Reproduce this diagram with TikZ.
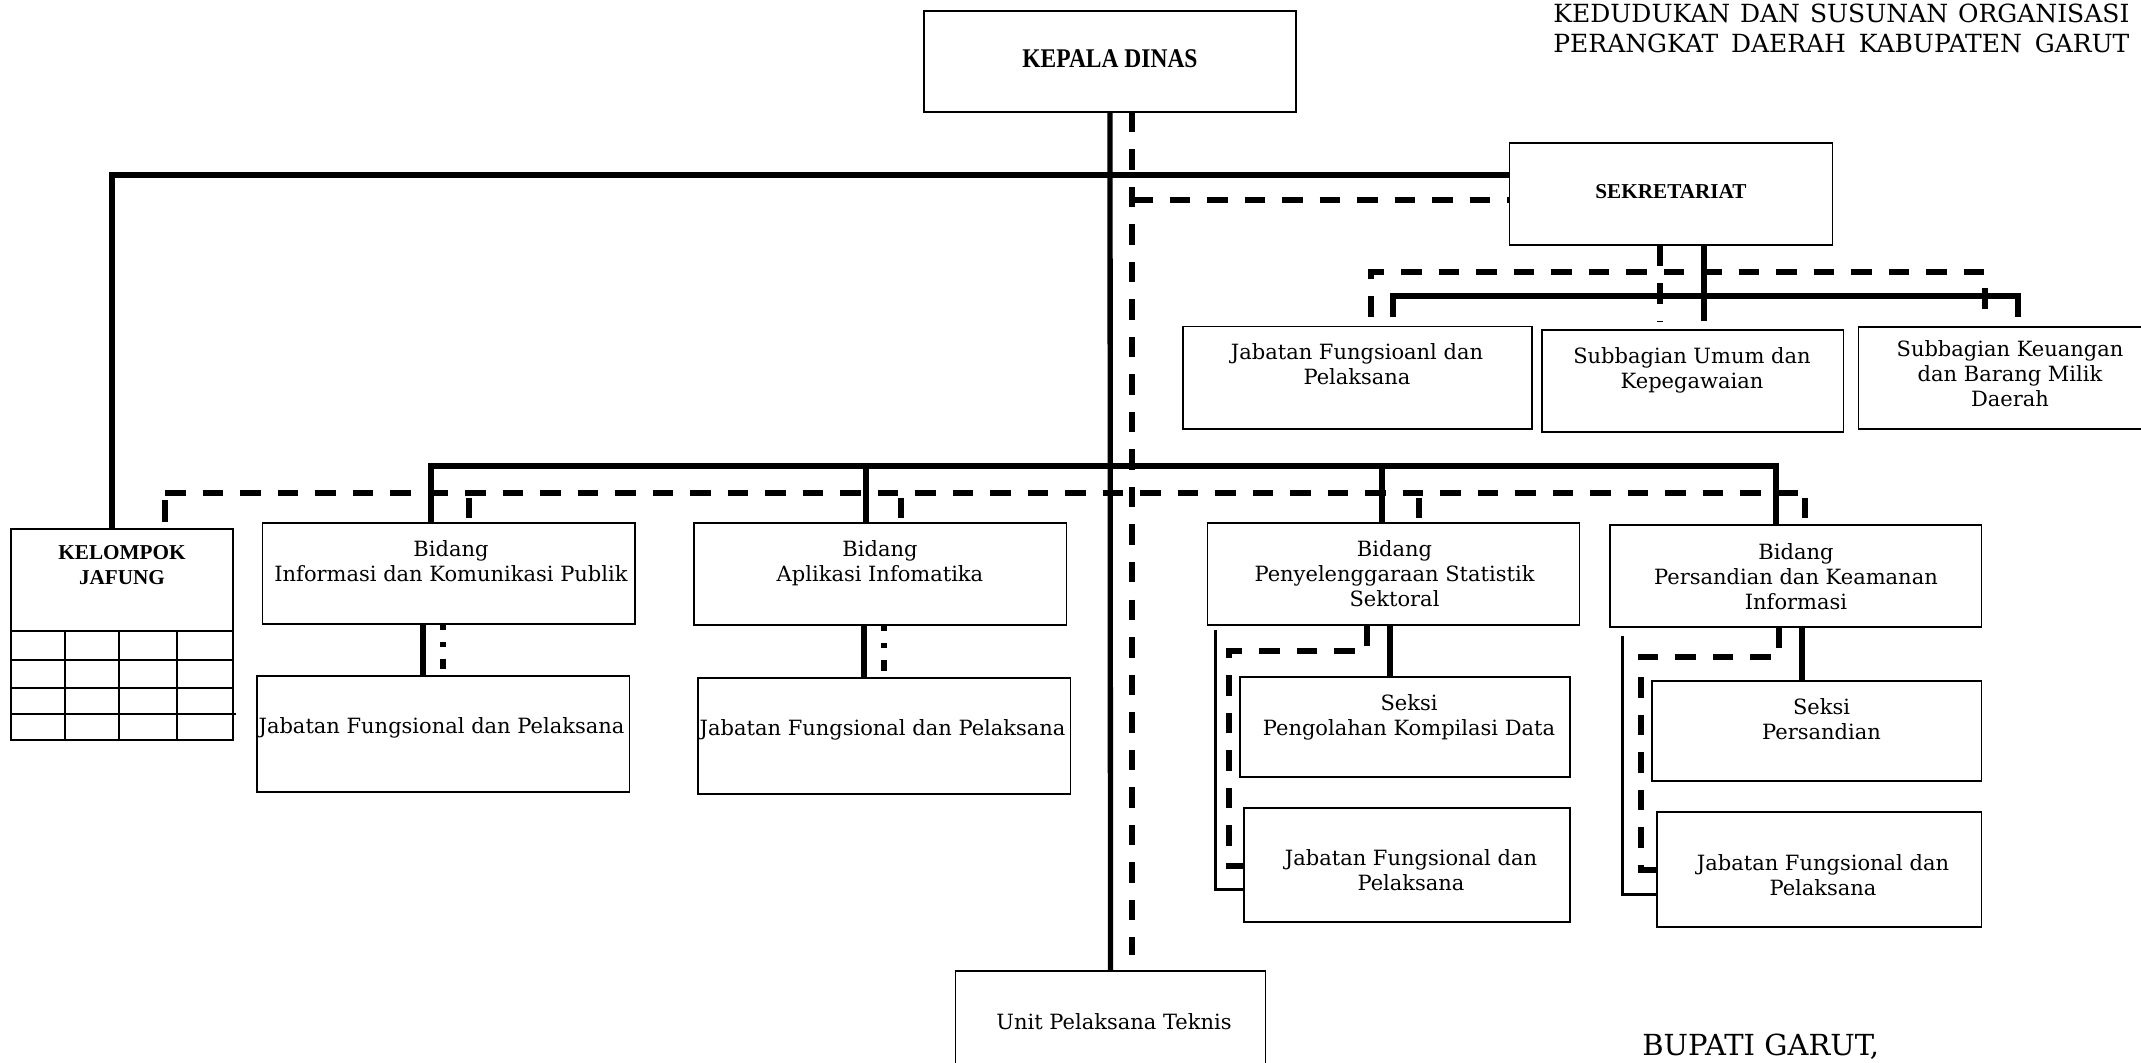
\documentclass[tikz,border=0pt]{standalone}
\usepackage{graphicx}
\usepackage{fontspec}
\setmainfont{DejaVu Serif}
\newfontfamily\hdfont{Liberation Serif}
\usetikzlibrary{fit,calc}

\begin{document}
\begin{tikzpicture}[x=0.5pt,y=-0.5pt,
  box/.style={draw, line width=0.8pt, inner sep=0pt},
  txt/.style={font=\fontsize{10.5}{12.65}\selectfont, align=center, inner sep=0pt, anchor=north},
  hd/.style={font=\hdfont\bfseries\fontsize{10.6}{12.5}\selectfont, align=center, inner sep=0pt},
  link/.style={line width=2.65pt},
  thinlink/.style={line width=1.5pt},
  dlink/.style={line width=2.7pt, dash pattern=on 10.25pt off 8.5pt},
  dstub/.style={line width=2.7pt},
  grid/.style={line width=0.8pt},
]
\clip (0,0) rectangle (2141,1063);
\fill[white] (0,0) rectangle (2141,1063);

% ---------- boxes ----------
\node[box, fit={(924,11) (1296,112)}] (kd) {};
\node[box, fit={(1509.5,143) (1832.5,245)}] (sek) {};
\node[box, fit={(1183,326.7) (1531.7,429)}] (jfs) {};
\node[box, fit={(1541.7,330) (1843.6,432)}] (sbu) {};
\node[box, fit={(1858.5,327) (2162,429)}] (sbk) {};
\node[box, fit={(11,529) (233,740)}] (kj) {};
\node[box, fit={(262.5,523) (635,624)}] (bidInfo) {};
\node[box, fit={(256.7,675.7) (629.5,791.7)}] (jfInfo) {};
\node[box, fit={(693.75,523) (1066.5,625)}] (bidApl) {};
\node[box, fit={(698,678) (1070.5,794)}] (jfApl) {};
\node[box, fit={(1207.6,523) (1579.5,625)}] (bidPen) {};
\node[box, fit={(1240,676.7) (1569.7,776.7)}] (sekPen) {};
\node[box, fit={(1244,807.7) (1569.7,921.7)}] (jfPen) {};
\node[box, fit={(1610,525) (1981.5,627)}] (bidPer) {};
\node[box, fit={(1651.8,680.7) (1981.5,780.7)}] (sekPer) {};
\node[box, fit={(1656.7,811.7) (1981.5,926.7)}] (jfPer) {};
\node[box, fit={(955.4,970.7) (1265.6,1090)}] (upt) {};

% table rows of the Kelompok Jafung box
\draw[grid] (11,631) -- (233,631);
\draw[grid] (11,660) -- (233,660);
\draw[grid] (11,688) -- (233,688);
\draw[grid] (11,714) -- (236,714);
\foreach \cx in {65,119,177} \draw[grid] (\cx,631) -- (\cx,740);

% ---------- texts ----------
\node[hd] (kd-t) at (1110,59) {\fontsize{13.5}{15}\selectfont\scalebox{0.87}[1]{KEPALA DINAS}};
\node[hd] (sek-t) at (1671,192) {SEKRETARIAT};
\node[hd, anchor=north] (kj-t) at (122,545) {KELOMPOK\\JAFUNG};

\node[txt] (jfs-t) at (1357,343) {Jabatan Fungsioanl dan\\Pelaksana};
\node[txt] (sbu-t) at (1692,347) {Subbagian Umum dan\\Kepegawaian};
\node[txt] (sbk-t) at (2010,340) {Subbagian Keuangan\\dan Barang Milik\\Daerah};

\node[txt] (bidInfo-t) at (451,540) {Bidang\\Informasi dan Komunikasi Publik};
\node[txt] (bidApl-t) at (880,540) {Bidang\\Aplikasi Infomatika};
\node[txt] (bidPen-t) at (1394.5,540) {Bidang\\Penyelenggaraan Statistik\\Sektoral};
\node[txt] (bidPer-t) at (1796,542.7) {Bidang\\Persandian dan Keamanan\\Informasi};

\node[txt] (jfInfo-t) at (441.5,716.7) {Jabatan Fungsional dan Pelaksana};
\node[txt] (jfApl-t) at (882.6,719) {Jabatan Fungsional dan Pelaksana};
\node[txt] (sekPen-t) at (1409,694) {Seksi\\Pengolahan Kompilasi Data};
\node[txt] (jfPen-t) at (1411,849.3) {Jabatan Fungsional dan\\Pelaksana};
\node[txt] (sekPer-t) at (1821.5,697.7) {Seksi\\Persandian};
\node[txt] (jfPer-t) at (1823,854.3) {Jabatan Fungsional dan\\Pelaksana};
\node[txt] (upt-t) at (1114,1013.3) {Unit Pelaksana Teknis};

\node[anchor=north west, inner sep=0pt, align=left, font=\fontsize{12.5}{15}\selectfont] (title) at (1553,3.3)
  {\makebox[288pt][s]{KEDUDUKAN DAN SUSUNAN ORGANISASI}\\\makebox[288pt][s]{PERANGKAT DAERAH KABUPATEN GARUT}};
\node[anchor=base west, inner sep=0pt, font=\fontsize{14.5}{17}\selectfont] (bupati) at (1642,1055) {BUPATI GARUT,};

% ---------- connectors: head office ----------
\coordinate (busL) at (112,175);
\coordinate (dtop) at (1132,112);
\coordinate (dend) at (1132,955);
\coordinate (dsek) at (1132,200);
\draw[link] (kd.south) -- (upt.north);
\draw[dlink] (dtop) -- (dend);
\draw[link] (sek.west |- busL) -- (busL) -- (busL |- kj.north);
\draw[dlink] (dsek) -- (sek.west |- dsek);

% ---------- connectors: secretariat ----------
\coordinate (sv) at (1704,296);
\coordinate (ss) at (1393,296);
\coordinate (se) at (2018,296);
\coordinate (dv) at (1660,272);
\coordinate (dl) at (1371,272);
\coordinate (dr) at (1985,272);
\draw[link, shorten >=4pt] (sek.south -| sv) -- (sv |- sbu.north);
\draw[link, shorten <=4.5pt, shorten >=4.5pt] (ss |- jfs.north) -- (ss) -- (se) -- (se |- sbk.north);
\draw[dlink, shorten >=3.5pt] (sek.south -| dv) -- (dv |- sbu.north);
\draw[dlink, shorten <=4.5pt, shorten >=3pt] (dl |- jfs.north) -- (dl) -- (dr) -- (dr |- sbk.north);

% ---------- connectors: divisions ----------
\coordinate (s1) at (431,466);
\coordinate (s2) at (866,466);
\coordinate (s3) at (1382,466);
\coordinate (s4) at (1776,466);
\draw[link] (s1 |- bidInfo.north) -- (s1) -- (s4) -- (s4 |- bidPer.north);
\draw[link] (s2) -- (s2 |- bidApl.north);
\draw[link] (s3) -- (s3 |- bidPen.north);

\coordinate (d0) at (165,493);
\coordinate (d1) at (469,493);
\coordinate (d2) at (901,493);
\coordinate (d3) at (1419,493);
\coordinate (d4) at (1805,493);
\draw[dlink] (d0) -- (d4);
\draw[dstub, shorten >=3pt] ($(d0)+(0,7)$) -- (d0 |- kj.north);
\draw[dstub, shorten >=2pt] ($(d1)+(0,5)$) -- (d1 |- bidInfo.north);
\draw[dstub, shorten >=2pt] ($(d2)+(0,5)$) -- (d2 |- bidApl.north);
\draw[dstub, shorten >=2pt] ($(d3)+(0,5)$) -- (d3 |- bidPen.north);
\draw[dstub, shorten >=3pt] ($(d4)+(0,5)$) -- (d4 |- bidPer.north);

% Bidang Informasi dan Komunikasi Publik
\coordinate (ci) at (423,650);
\coordinate (cid) at (443,650);
\draw[link] (ci |- bidInfo.south) -- (ci |- jfInfo.north);
\draw[dlink, dash pattern=on 2.5pt off 6pt on 2.5pt off 6pt on 12pt off 4pt, shorten >=3pt] (cid |- bidInfo.south) -- (cid |- jfInfo.north);

% Bidang Aplikasi Infomatika
\coordinate (ca) at (864,650);
\coordinate (cad) at (884,650);
\draw[link] (ca |- bidApl.south) -- (ca |- jfApl.north);
\draw[dlink, dash pattern=on 2.5pt off 6pt on 2.5pt off 6pt on 12pt off 4pt, shorten >=3pt] (cad |- bidApl.south) -- (cad |- jfApl.north);

% Bidang Penyelenggaraan Statistik Sektoral
\coordinate (cp) at (1390,650);
\coordinate (cpd1) at (1367,651);
\coordinate (cpd2) at (1229,651);
\coordinate (cpd3) at (1229,866);
\coordinate (cpl) at (1215.5,889);
\draw[link] (cp |- bidPen.south) -- (cp |- sekPen.north);
\draw[dlink] (cpd1 |- bidPen.south) -- (cpd1) -- (cpd2) -- (cpd3) -- (cpd3 -| jfPen.west);
\draw[thinlink, shorten <=2pt] (cpl |- bidPen.south) -- (cpl) -- (cpl -| jfPen.west);

% Bidang Persandian dan Keamanan Informasi
\coordinate (cs) at (1802,650);
\coordinate (csd1) at (1779,657);
\coordinate (csd2) at (1641,657);
\coordinate (csd3) at (1641,870);
\coordinate (csl) at (1622,894);
\draw[link] (cs |- bidPer.south) -- (cs |- sekPer.north);
\draw[dlink] (csd1 |- bidPer.south) -- (csd1) -- (csd2) -- (csd3) -- (csd3 -| jfPer.west);
\draw[thinlink, shorten <=4pt] (csl |- bidPer.south) -- (csl) -- (csl -| jfPer.west);
\end{tikzpicture}
\end{document}
